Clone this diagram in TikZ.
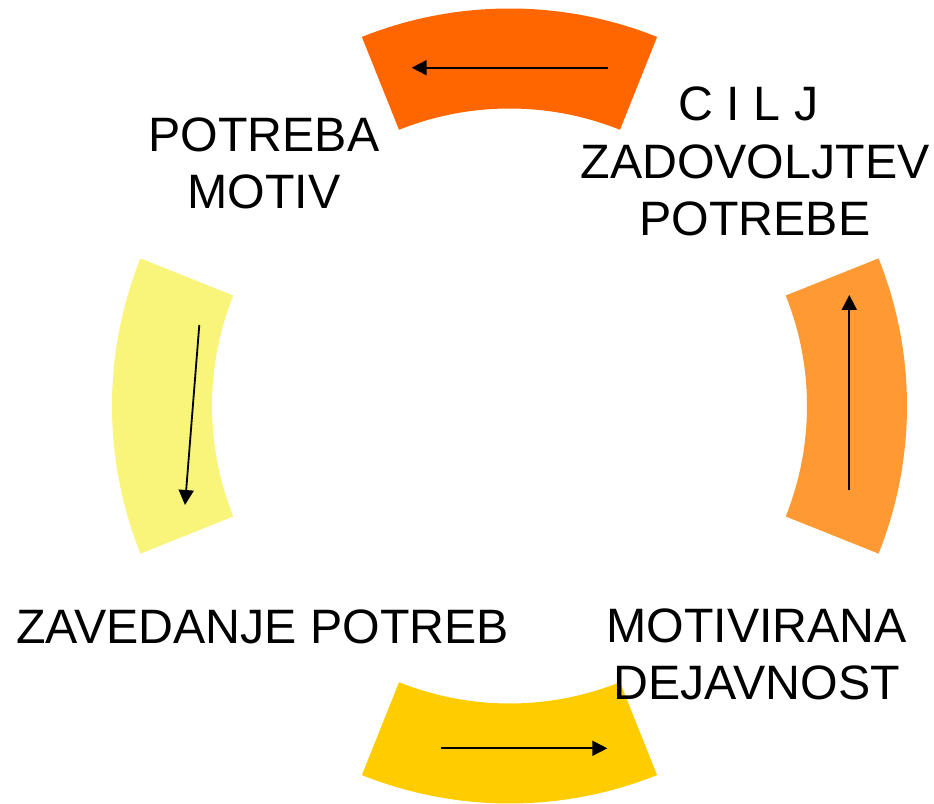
\documentclass[tikz,border=0pt]{standalone}
\usepackage{fontspec}
\setmainfont{Liberation Sans}
\usetikzlibrary{arrows.meta}
\definecolor{arcA}{HTML}{FF6600}
\definecolor{arcB}{HTML}{FF9933}
\definecolor{arcC}{HTML}{FFCC00}
\definecolor{arcD}{HTML}{F8F57A}
\tikzset{
  flow/.style={line width=1.8pt,-{Triangle[length=15pt,width=15pt]}},
  lbl/.style={align=center,inner sep=0pt,anchor=base,font=\fontsize{48.3pt}{57.5pt}\selectfont}
}
\newcommand{\ringpart}[2]{%
  \fill[#2] (#1-21.8:397.5pt) arc[start angle=#1-21.8,end angle=#1+21.8,radius=397.5pt]
    -- (#1+21.8:297.5pt) arc[start angle=#1+21.8,end angle=#1-21.8,radius=297.5pt] -- cycle;}
\begin{document}
\begin{tikzpicture}
\useasboundingbox (0pt,0pt) rectangle (934pt,803pt);
\begin{scope}[shift={(509.5pt,397pt)}]
  \ringpart{90}{arcA}
  \ringpart{0}{arcB}
  \ringpart{270}{arcC}
  \ringpart{180}{arcD}
\end{scope}
\coordinate (a1) at (607.7pt,735.3pt);
\coordinate (a2) at (411.7pt,735.3pt);
\coordinate (b1) at (849.3pt,313pt);
\coordinate (b2) at (849.3pt,508pt);
\coordinate (c1) at (441pt,54.7pt);
\coordinate (c2) at (607.3pt,54.7pt);
\coordinate (d1) at (199.3pt,478pt);
\coordinate (d2) at (185pt,298pt);
\draw[flow] (a1) -- (a2);
\draw[flow] (b1) -- (b2);
\draw[flow] (c1) -- (c2);
\draw[flow] (d1) -- (d2);
\node[lbl] (potreba) at (264pt,594pt) {POTREBA\\MOTIV};
\node[lbl] (cilj) at (755pt,567pt) {C I L J\hspace*{13pt}\\ZADOVOLJTEV\\POTREBE};
\node[lbl] (zavedanje) at (262.5pt,159pt) {ZAVEDANJE POTREB};
\node[lbl] (motivirana) at (756.7pt,103pt) {MOTIVIRANA\\DEJAVNOST};
\end{tikzpicture}
\end{document}
